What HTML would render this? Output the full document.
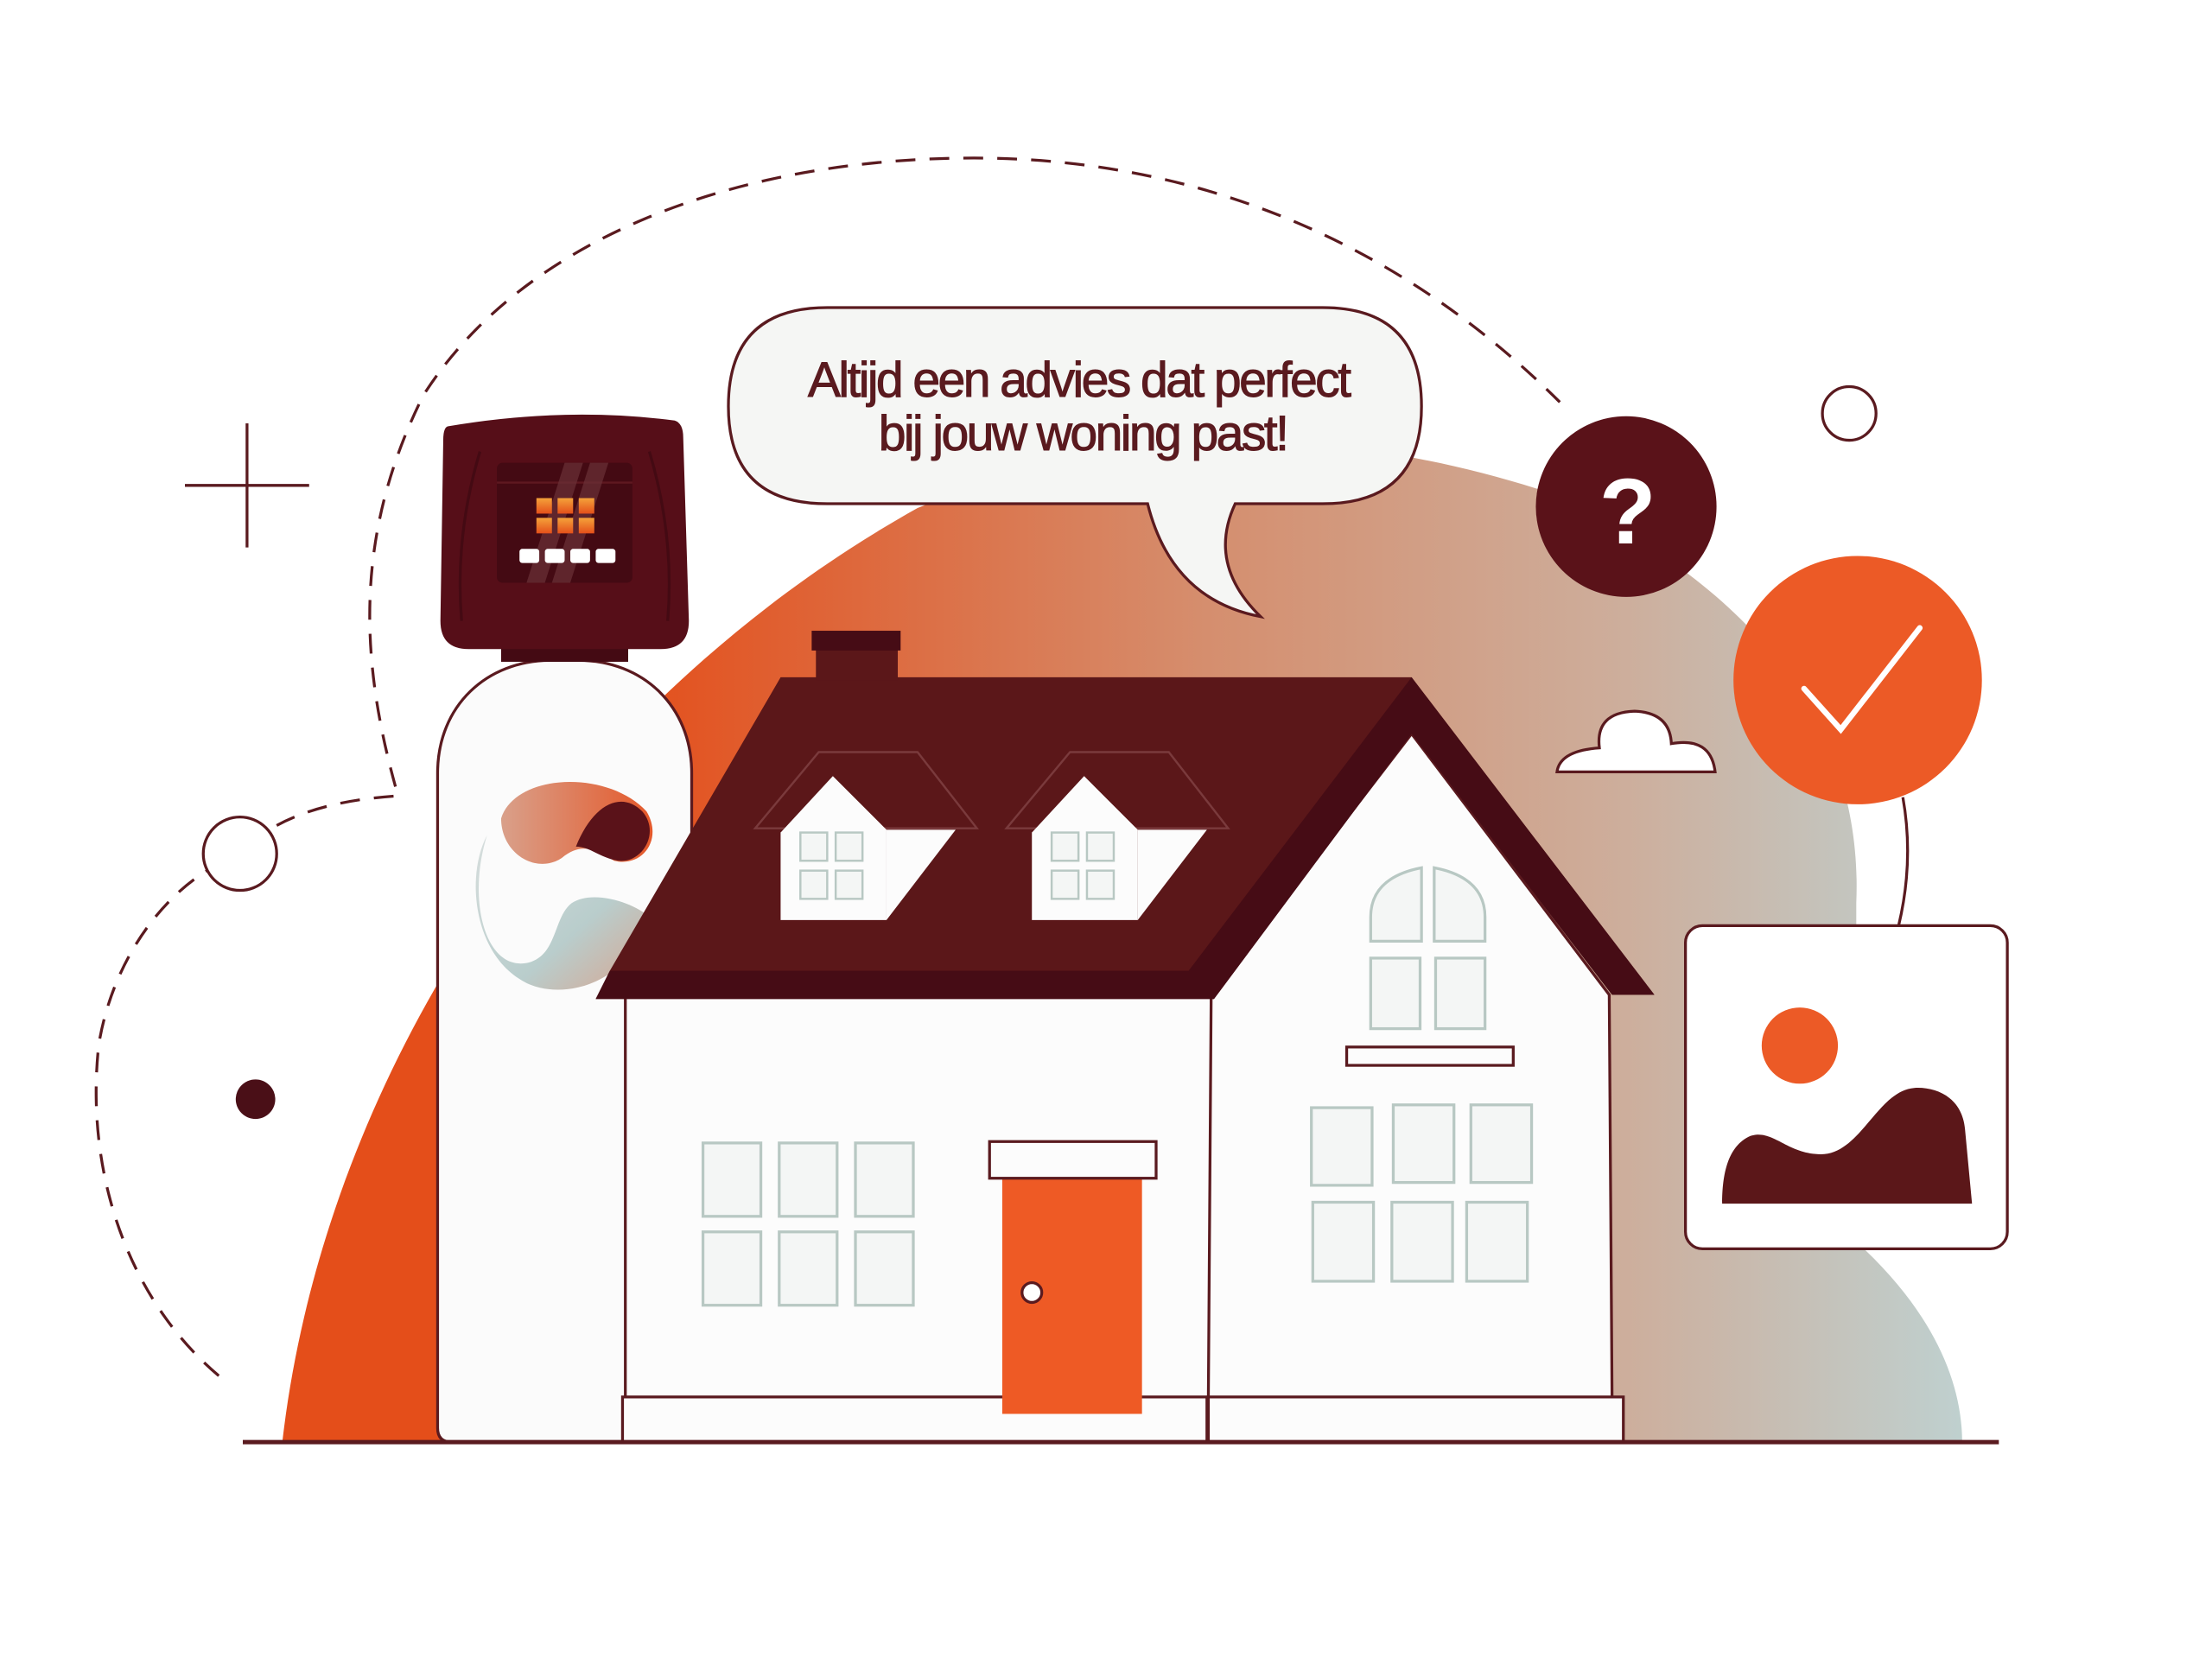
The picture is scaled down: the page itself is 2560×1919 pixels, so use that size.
<!DOCTYPE html>
<html><head><meta charset="utf-8"><style>
html,body{margin:0;padding:0;background:#fff;}
svg{display:block;}
</style></head><body>
<svg width="2560" height="1919" viewBox="0 0 1567 1175" preserveAspectRatio="none" xmlns="http://www.w3.org/2000/svg">
<defs>
<linearGradient id="bg" x1="200" y1="0" x2="1390" y2="0" gradientUnits="userSpaceOnUse">
<stop offset="0.2" stop-color="#E44E1A"/>
<stop offset="0.55" stop-color="#D58E6E"/>
<stop offset="0.8" stop-color="#CDAE9C"/>
<stop offset="1" stop-color="#BFD0CF"/>
</linearGradient>
<linearGradient id="lg1" x1="0" y1="0" x2="1" y2="0">
<stop offset="0" stop-color="#D9A08A"/><stop offset="1" stop-color="#E4582A"/>
</linearGradient>
<linearGradient id="lg2" x1="0" y1="0" x2="1" y2="1">
<stop offset="0" stop-color="#D7DEDD"/><stop offset="0.6" stop-color="#B9CDCC"/><stop offset="1" stop-color="#D7A590"/>
</linearGradient>
<linearGradient id="sq" x1="0" y1="0" x2="0" y2="1">
<stop offset="0" stop-color="#F5A23A"/><stop offset="1" stop-color="#E4501A"/>
</linearGradient>
</defs>
<path d="M200,1022 C230,760 400,500 650,360 C800,300 950,300 1100,350 C1250,420 1320,520 1315,640 L1315,880 C1370,930 1390,980 1390,1022 Z" fill="url(#bg)"/>
<path d="M155,975 C90,920 60,830 70,740 C80,680 115,635 150,615 M196,585 C220,572 250,566 282,564 C255,470 250,380 300,280 C370,170 520,112 690,112 C860,112 1000,180 1105,285" fill="none" stroke="#5A1A1F" stroke-width="2" stroke-dasharray="14 10"/>
<circle cx="170" cy="605" r="26" fill="#fff" stroke="#5A1A1F" stroke-width="2"/>
<line x1="131" y1="344" x2="219" y2="344" stroke="#5A1A1F" stroke-width="2"/>
<line x1="175" y1="300" x2="175" y2="388" stroke="#5A1A1F" stroke-width="2"/>
<circle cx="1310" cy="293" r="19" fill="#fff" stroke="#5A1A1F" stroke-width="2"/>
<circle cx="181" cy="779" r="14" fill="#4A0F17"/>
<path d="M310,1012 L310,548 C310,500 345,468 390,468 L410,468 C455,468 490,500 490,548 L490,1022 L320,1022 Q310,1022 310,1012 Z" fill="#FBFBFB" stroke="#5A1A1F" stroke-width="2"/>
<rect x="355" y="455" width="90" height="14" fill="#440A13"/>
<path d="M318,302 Q400,288 478,298 Q484,300 484,310 L488,440 Q488,460 468,460 L332,460 Q312,460 312,440 L314,312 Q314,302 318,302 Z" fill="#560E18"/>
<path d="M340,320 Q322,380 327,440 M460,320 Q478,380 473,440" fill="none" stroke="#440A13" stroke-width="2"/>
<rect x="352" y="328" width="96" height="85" rx="4" fill="#440A13"/>
<line x1="352" y1="342" x2="448" y2="342" stroke="#5E1820" stroke-width="1.5"/>
<path d="M400,328 L413,328 L386,413 L373,413 Z M418,328 L431,328 L404,413 L391,413 Z" fill="#6B3138" opacity="0.7"/>
<g fill="url(#sq)">
<rect x="380" y="353" width="11" height="11"/><rect x="395" y="353" width="11" height="11"/><rect x="410" y="353" width="11" height="11"/>
<rect x="380" y="367" width="11" height="11"/><rect x="395" y="367" width="11" height="11"/><rect x="410" y="367" width="11" height="11"/>
</g>
<g fill="#fff"><rect x="368" y="389" width="14" height="10" rx="2"/><rect x="386" y="389" width="14" height="10" rx="2"/><rect x="404" y="389" width="14" height="10" rx="2"/><rect x="422" y="389" width="14" height="10" rx="2"/></g>
<path d="M355,580 C365,548 430,545 458,575 C470,595 455,615 435,610 C420,600 410,598 398,608 C380,620 355,605 355,580 Z" fill="url(#lg1)"/>
<path d="M345,592 C330,640 345,690 375,682 C395,676 392,650 405,640 C420,630 450,640 460,650 C445,700 395,710 370,695 C335,675 330,620 345,592 Z" fill="url(#lg2)"/>
<path d="M408,600 C420,570 440,560 455,575 C468,590 455,612 438,610 C425,608 418,600 408,600 Z" fill="#5A1219"/>
<rect x="443" y="700" width="415" height="292" fill="#FCFCFC" stroke="#5A1A1F" stroke-width="2"/>
<path d="M858,705 L1000,520 L1140,705 L1142,992 L856,992 Z" fill="#FCFCFC" stroke="#5A1A1F" stroke-width="2"/>
<rect x="441" y="990" width="414" height="32" fill="#FCFCFC" stroke="#5A1A1F" stroke-width="2"/>
<rect x="856" y="990" width="294" height="32" fill="#FCFCFC" stroke="#5A1A1F" stroke-width="2"/>
<path d="M422,708 L432,688 L553,480 L1000,480 L1172,705 L1142,705 L1000,520 L860,708 Z" fill="#5B1719"/>
<path d="M422,708 L432,688 L842,688 L1000,480 L1172,705 L1142,705 L1000,520 L860,708 Z" fill="#460C15"/>
<rect x="578" y="458" width="58" height="24" fill="#5B1719"/>
<rect x="575" y="447" width="63" height="14" fill="#460C15"/>
<g id="d1">
<path d="M535,587 L580,533 L650,533 L692,587 Z" fill="#5B1719" stroke="#7A3A3C" stroke-width="1.5"/>
<path d="M553,590 L590,550 L628,588 L628,652 L553,652 Z" fill="#FCFCFC"/>
<path d="M628,588 L677,588 L628,652 Z" fill="#FCFCFC"/>
<g fill="#F4F6F5" stroke="#B8C8C3" stroke-width="1.5">
<rect x="567" y="590" width="19" height="20"/><rect x="592" y="590" width="19" height="20"/>
<rect x="567" y="617" width="19" height="20"/><rect x="592" y="617" width="19" height="20"/>
</g>
</g>
<use href="#d1" x="178" y="0"/>
<g fill="#F4F6F5" stroke="#B8C8C3" stroke-width="2">
<rect x="498" y="810" width="41" height="52"/><rect x="552" y="810" width="41" height="52"/><rect x="606" y="810" width="41" height="52"/>
<rect x="498" y="873" width="41" height="52"/><rect x="552" y="873" width="41" height="52"/><rect x="606" y="873" width="41" height="52"/>
</g>
<rect x="710" y="835" width="99" height="167" fill="#EE5A25"/>
<rect x="701" y="809" width="118" height="26" fill="#FCFCFC" stroke="#5A1A1F" stroke-width="2"/>
<circle cx="731" cy="916" r="7" fill="#fff" stroke="#5A1A1F" stroke-width="2"/>
<g fill="#F4F6F5" stroke="#B8C8C3" stroke-width="2">
<path d="M971,667 L971,650 Q971,622 1007,615 L1007,667 Z"/>
<path d="M1016,667 L1016,615 Q1052,622 1052,650 L1052,667 Z"/>
<rect x="971" y="679" width="35" height="50"/><rect x="1017" y="679" width="35" height="50"/>
<rect x="929" y="785" width="43" height="55"/><rect x="987" y="783" width="43" height="55"/><rect x="1042" y="783" width="43" height="55"/>
<rect x="930" y="852" width="43" height="56"/><rect x="986" y="852" width="43" height="56"/><rect x="1039" y="852" width="43" height="56"/>
</g>
<rect x="954" y="742" width="118" height="13" fill="#FCFCFC" stroke="#5A1A1F" stroke-width="2"/>
<line x1="172" y1="1022" x2="1416" y2="1022" stroke="#5A1A1F" stroke-width="3"/>
<path d="M586,218 L937,218 Q1007,218 1007,288 Q1007,357 937,357 L875,357 Q855,400 893,437 Q830,425 813,357 L586,357 Q516,357 516,288 Q516,218 586,218 Z" fill="#F5F6F4" stroke="#5A1A1F" stroke-width="2"/>
<text x="764" y="281" text-anchor="middle" font-family="Liberation Sans, sans-serif" font-size="35" letter-spacing="-1.6" fill="#5A1A1F" stroke="#5A1A1F" stroke-width="0.6">Altijd een advies dat perfect</text>
<text x="767" y="319" text-anchor="middle" font-family="Liberation Sans, sans-serif" font-size="35" letter-spacing="-1.6" fill="#5A1A1F" stroke="#5A1A1F" stroke-width="0.6">bij jouw woning past!</text>
<circle cx="1152" cy="359" r="64" fill="#5A1219"/>
<text x="1153" y="385" text-anchor="middle" font-family="Liberation Sans, sans-serif" font-weight="bold" font-size="66" fill="#fff">?</text>
<path d="M1348,565 Q1356,610 1345,656" fill="none" stroke="#5A1A1F" stroke-width="2"/>
<circle cx="1316" cy="482" r="88" fill="#EC5A26"/>
<polyline points="1278,488 1304,517 1360,445" fill="none" stroke="#fff" stroke-width="4" stroke-linecap="round"/>
<path d="M1103,547 Q1105,532 1133,530 Q1130,505 1158,504 Q1183,505 1184,527 Q1212,522 1215,547 Z" fill="#fff" stroke="#5A1A1F" stroke-width="2"/>
<rect x="1194" y="656" width="228" height="229" rx="12" fill="#fff" stroke="#5A1A1F" stroke-width="2"/>
<circle cx="1275" cy="741" r="27" fill="#EC5A26"/>
<path d="M1220,853 L1397,853 L1392,800 C1390,778 1372,770 1356,771 C1330,773 1318,818 1290,818 C1266,818 1256,800 1240,805 C1224,812 1220,832 1220,853 Z" fill="#5B1719"/>
</svg>
</body></html>
